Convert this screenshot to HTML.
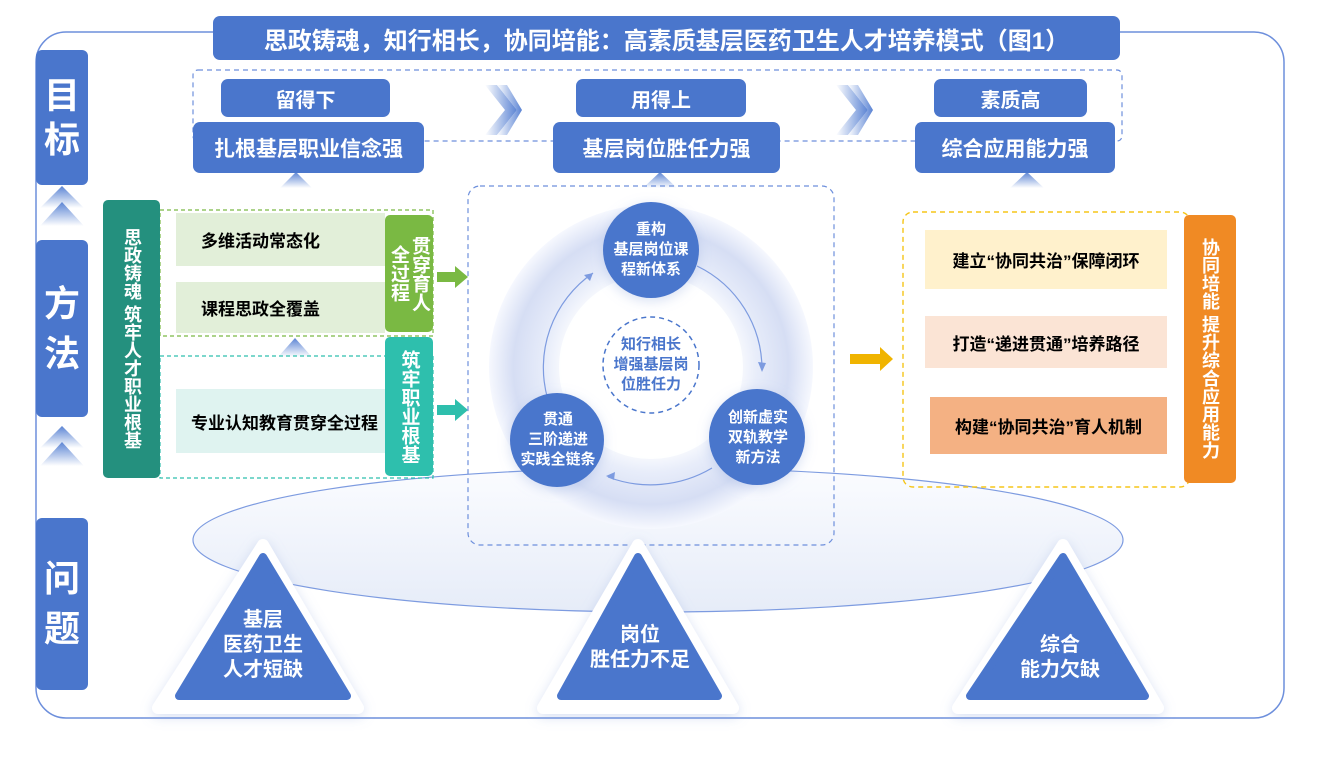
<!DOCTYPE html>
<html><head><meta charset="utf-8"><style>
*{margin:0;padding:0;box-sizing:border-box}
body{width:1320px;height:760px;background:#fff;position:relative;overflow:hidden;font-family:"Liberation Sans","Noto Sans CJK SC",sans-serif;font-weight:bold}
.a{position:absolute;display:flex;align-items:center;justify-content:center;text-align:center}
.b{background:#4a76cc;color:#fff;border-radius:7px}
.v{writing-mode:vertical-rl;color:#fff;border-radius:5px;white-space:nowrap}
.vb{position:absolute;display:block;writing-mode:vertical-rl;color:#fff;border-radius:5px;white-space:nowrap;text-align:center}
</style></head><body>
<svg width="1320" height="760" style="position:absolute;left:0;top:0">
<defs>
<radialGradient id="ring" cx="50%" cy="50%" r="50%">
<stop offset="0.5" stop-color="#fff"/><stop offset="0.65" stop-color="#e8edfa"/><stop offset="0.85" stop-color="#d6def4"/><stop offset="1" stop-color="#f6f8fe"/></radialGradient>
<linearGradient id="chev" x1="0" x2="1"><stop offset="0" stop-color="#fff"/><stop offset="1" stop-color="#5b84d4"/></linearGradient>
<linearGradient id="up" x1="0" y1="0" x2="0" y2="1"><stop offset="0" stop-color="#5b84d4"/><stop offset="1" stop-color="#fff"/></linearGradient>
<linearGradient id="ell" x1="0" y1="0" x2="0" y2="1"><stop offset="0" stop-color="#fbfcff"/><stop offset="1" stop-color="#e6ecf8"/></linearGradient>
<filter id="sh" x="-20%" y="-20%" width="140%" height="140%"><feDropShadow dx="0" dy="3" stdDeviation="6" flood-color="#8fa5dc" flood-opacity="0.35"/></filter>
</defs>
<rect x="36" y="32" width="1248" height="686" rx="30" fill="#fff" stroke="#6d8fdc" stroke-width="1.5"/>
<ellipse cx="658" cy="540" rx="465" ry="72" fill="url(#ell)" stroke="#7d9be0" stroke-width="1.2"/>
<rect x="193" y="70" width="929" height="71" rx="5" fill="none" stroke="#6d8fdc" stroke-dasharray="5,4" stroke-width="1.2"/>
<g fill="url(#chev)">
<polygon points="485,85 505,110 485,135 497,135 517,110 497,85"/>
<polygon points="497,85 517,110 497,135 507,135 522,110 507,85"/>
<polygon points="836,85 856,110 836,135 848,135 868,110 848,85"/>
<polygon points="848,85 868,110 848,135 858,135 873,110 858,85"/>
</g>
<g fill="url(#up)">
<polygon points="40,208 62,186 84,208"/><polygon points="40,226 62,202 84,226"/>
<polygon points="40,448 62,426 84,448"/><polygon points="40,466 62,442 84,466"/>
<polygon points="280,188 296,172 312,188"/>
<polygon points="643,188 660,172 677,188"/>
<polygon points="1010,188 1027,172 1044,188"/>
<polygon points="278,357 295,338 312,357"/>
</g>
<rect x="160" y="210" width="273" height="126" fill="none" stroke="#7ab943" stroke-dasharray="4,3" stroke-width="1.2"/>
<rect x="160" y="356" width="273" height="122" fill="none" stroke="#2ebfad" stroke-dasharray="4,3" stroke-width="1.2"/>
<polygon points="437,272 455,272 455,266 468,277 455,288 455,282 437,282" fill="#7ab943"/>
<polygon points="437,405 455,405 455,399 468,410 455,421 455,415 437,415" fill="#2ebfad"/>
<polygon points="850,354 880,354 880,347 893,359 880,371 880,364 850,364" fill="#f0b400"/>
<rect x="468" y="186" width="366" height="359" rx="12" fill="none" stroke="#6d8fdc" stroke-dasharray="5,4" stroke-width="1.2"/>
<circle cx="651" cy="367" r="162" fill="url(#ring)"/>
<circle cx="651" cy="367" r="92" fill="#fff" opacity="0.9"/>
<circle cx="651" cy="365" r="48" fill="#fff" stroke="#4a76cc" stroke-dasharray="5,4" stroke-width="1.5"/>
<path d="M548,400 A115,115 0 0 1 593,273" fill="none" stroke="#7d9be0" stroke-width="1.2"/>
<polygon points="593,273 584,275 590,281" fill="#7d9be0"/>
<path d="M697,266 A115,115 0 0 1 762,370" fill="none" stroke="#7d9be0" stroke-width="1.2"/>
<polygon points="762,372 758,362 766,363" fill="#7d9be0"/>
<path d="M712,468 A120,120 0 0 1 608,477" fill="none" stroke="#7d9be0" stroke-width="1.2"/>
<polygon points="606,476 615,472 614,480" fill="#7d9be0"/>
<circle cx="651" cy="250" r="48" fill="#4a76cc" filter="url(#sh)"/>
<circle cx="757" cy="437" r="48" fill="#4a76cc" filter="url(#sh)"/>
<circle cx="557" cy="440" r="47" fill="#4a76cc" filter="url(#sh)"/>
<rect x="903" y="212" width="287" height="275" rx="10" fill="none" stroke="#f5c518" stroke-dasharray="5,4" stroke-width="1.4"/>
<g filter="url(#sh)" fill="#fff">
<path d="M263,545 L358,708 L158,708 Z" stroke="#fff" stroke-width="12" stroke-linejoin="round"/>
<path d="M638,545 L733,708 L543,708 Z" stroke="#fff" stroke-width="12" stroke-linejoin="round"/>
<path d="M1063,545 L1158,708 L958,708 Z" stroke="#fff" stroke-width="12" stroke-linejoin="round"/>
</g>
<g fill="#4a76cc" stroke="#4a76cc" stroke-width="8" stroke-linejoin="round">
<path d="M263,557 L347,696 L179,696 Z"/>
<path d="M638,557 L718,696 L561,696 Z"/>
<path d="M1063,557 L1145,696 L970,696 Z"/>
</g>
</svg>

<div class="a b" style="left:213px;top:16px;width:907px;height:44px;font-size:24px;border-radius:7px">思政铸魂，知行相长，协同培能：高素质基层医药卫生人才培养模式（图1）</div>

<div class="a b" style="left:36px;top:50px;width:52px;height:135px;font-size:36px;line-height:44px;border-radius:6px">目<br>标</div>
<div class="a b" style="left:36px;top:240px;width:52px;height:177px;font-size:36px;line-height:50px;border-radius:6px">方<br>法</div>
<div class="a b" style="left:36px;top:518px;width:52px;height:172px;font-size:36px;line-height:50px;border-radius:6px">问<br>题</div>

<div class="a b" style="left:221px;top:79px;width:169px;height:38px;font-size:20px">留得下</div>
<div class="a b" style="left:576px;top:79px;width:170px;height:38px;font-size:20px">用得上</div>
<div class="a b" style="left:934px;top:79px;width:153px;height:38px;font-size:20px">素质高</div>
<div class="a b" style="left:193px;top:122px;width:231px;height:51px;font-size:21px">扎根基层职业信念强</div>
<div class="a b" style="left:553px;top:122px;width:227px;height:51px;font-size:21px">基层岗位胜任力强</div>
<div class="a b" style="left:915px;top:122px;width:200px;height:51px;font-size:21px">综合应用能力强</div>

<div class="vb" style="left:103px;top:200px;width:57px;height:278px;background:#24907e;font-size:18px;line-height:57px">思政铸魂 筑牢人才职业根基</div>
<div class="a" style="left:176px;top:213px;width:209px;height:53px;background:#e2efd9;font-size:17px;justify-content:flex-start;padding-left:25px">多维活动常态化</div>
<div class="a" style="left:176px;top:282px;width:209px;height:51px;background:#e2efd9;font-size:17px;justify-content:flex-start;padding-left:25px">课程思政全覆盖</div>
<div class="a v" style="left:385px;top:215px;width:48px;height:117px;background:#7ab943;font-size:19px;line-height:21px">贯穿育人<br>全过程</div>
<div class="a" style="left:176px;top:389px;width:209px;height:64px;background:#dff3f0;font-size:17px;padding-left:8px">专业认知教育贯穿全过程</div>
<div class="a v" style="left:385px;top:337px;width:48px;height:139px;background:#2ebfad;font-size:19px;line-height:21px">筑牢职业根基</div>

<div class="a" style="left:603px;top:210px;width:96px;height:80px;color:#fff;font-size:15px;line-height:20px">重构<br>基层岗位课<br>程新体系</div>
<div class="a" style="left:603px;top:330px;width:96px;height:70px;color:#4a76cc;font-size:15px;line-height:20px">知行相长<br>增强基层岗<br>位胜任力</div>
<div class="a" style="left:712px;top:400px;width:92px;height:76px;color:#fff;font-size:15px;line-height:20px">创新虚实<br>双轨教学<br>新方法</div>
<div class="a" style="left:510px;top:402px;width:96px;height:76px;color:#fff;font-size:15px;line-height:20px">贯通<br>三阶递进<br>实践全链条</div>

<div class="a" style="left:925px;top:230px;width:242px;height:59px;background:#fff1cc;font-size:17px">建立“协同共治”保障闭环</div>
<div class="a" style="left:925px;top:316px;width:242px;height:52px;background:#fbe4d5;font-size:17px">打造“递进贯通”培养路径</div>
<div class="a" style="left:930px;top:397px;width:237px;height:57px;background:#f4b183;font-size:17px">构建“协同共治”育人机制</div>
<div class="a v" style="left:1184px;top:215px;width:52px;height:268px;background:#f08a24;font-size:18px;line-height:22px">协同培能 提升综合应用能力</div>

<div class="a" style="left:200px;top:605px;width:126px;height:80px;color:#fff;font-size:20px;line-height:25px">基层<br>医药卫生<br>人才短缺</div>
<div class="a" style="left:580px;top:620px;width:120px;height:55px;color:#fff;font-size:20px;line-height:25px">岗位<br>胜任力不足</div>
<div class="a" style="left:1000px;top:630px;width:120px;height:55px;color:#fff;font-size:20px;line-height:25px">综合<br>能力欠缺</div>
</body></html>
